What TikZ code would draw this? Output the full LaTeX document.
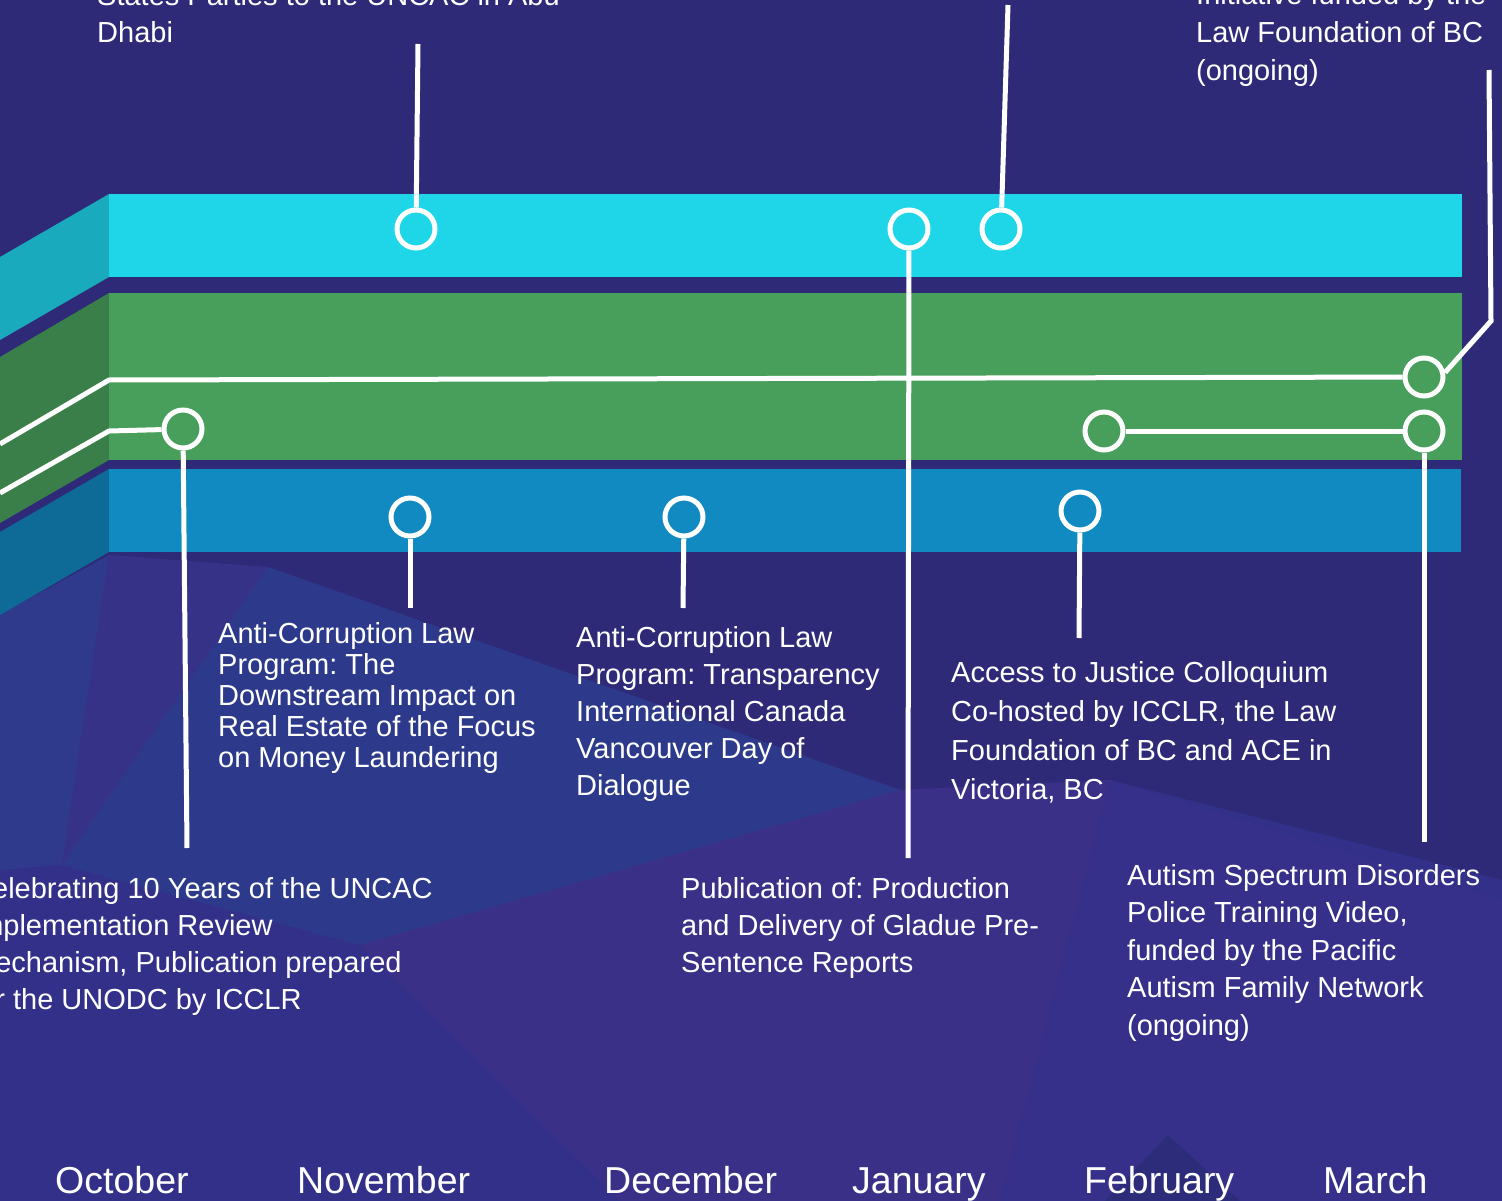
\documentclass[tikz,border=0pt]{standalone}
\usepackage{fontspec}
\setmainfont{Liberation Sans}
\frenchspacing
\definecolor{bgtop}{HTML}{2E2A78}
\definecolor{bglow}{HTML}{33308A}
\definecolor{facetblue}{HTML}{2D3A8B}
\definecolor{facetleft}{HTML}{2F3A8C}
\definecolor{facetviolet}{HTML}{363288}
\definecolor{facetpurple}{HTML}{3A3088}
\definecolor{facetright}{HTML}{36308A}
\definecolor{facetdark}{HTML}{2C2C7A}
\definecolor{cyanband}{HTML}{1FD6E9}
\definecolor{cyanside}{HTML}{19AABD}
\definecolor{greenband}{HTML}{479F5B}
\definecolor{greenside}{HTML}{3A7E4A}
\definecolor{blueband}{HTML}{118AC1}
\definecolor{blueside}{HTML}{0E6B98}
\newcommand\linesblock[2]{\vtop{\baselineskip=#1pt\lineskiplimit=-100pt\halign{##\hfil\cr #2\crcr}}}
\begin{document}
\begin{tikzpicture}[x=1pt,y=-1pt,
  evt/.style={circle,draw=white,line width=5pt,minimum size=38pt,inner sep=0pt},
  conn/.style={draw=white,line width=5pt},
  label/.style={anchor=base west,inner sep=0pt,text=white,font=\fontsize{29}{37}\selectfont},
  month/.style={anchor=base west,inner sep=0pt,text=white,font=\fontsize{37.5}{40}\selectfont}]
\useasboundingbox (0,0) rectangle (1502,1201);
\clip (0,0) rectangle (1502,1201);
% background (low-poly)
\fill[bgtop] (0,0) rectangle (1502,1201);
\fill[bglow] (0,600) -- (268,567) -- (900,790) -- (1110,780) -- (1502,880) -- (1502,1201) -- (0,1201) -- cycle;
\fill[facetleft] (0,615) -- (109,555) -- (62,865) -- (0,870) -- cycle;
\fill[facetviolet] (109,555) -- (268,567) -- (62,865) -- cycle;
\fill[facetblue] (268,567) -- (900,790) -- (360,945) -- (62,865) -- cycle;
\fill[facetpurple] (900,790) -- (1110,780) -- (1000,1201) -- (620,1201) -- (360,945) -- cycle;
\fill[facetright] (1110,780) -- (1502,900) -- (1502,1201) -- (1000,1201) -- cycle;
\fill[facetdark] (1105,1201) -- (1168,1135) -- (1240,1201) -- cycle;
% bands
\fill[cyanside] (0,257) -- (109,194) -- (109,277) -- (0,340) -- cycle;
\fill[cyanband] (109,194) rectangle (1462,277);
\fill[greenside] (0,357) -- (109,293) -- (109,460) -- (0,523) -- cycle;
\fill[greenband] (109,293) rectangle (1462,460);
\fill[blueside] (0,532) -- (109,469) -- (109,552) -- (0,615) -- cycle;
\fill[blueband] (109,469) rectangle (1461,552);
% event markers
\node[evt] (c1) at (416,229) {};
\node[evt] (c2) at (183,429) {};
\node[evt] (c3) at (909,229) {};
\node[evt] (c4) at (1001,229) {};
\node[evt] (c5) at (410,517) {};
\node[evt] (c6) at (684,517) {};
\node[evt] (c7) at (1080,511) {};
\node[evt] (c8) at (1104,431) {};
\node[evt] (c9) at (1424,377) {};
\node[evt] (c10) at (1424,431) {};
% free ends
\coordinate (t1) at (418,44);
\coordinate (t3) at (908,858);
\coordinate (t4) at (1008,5);
\coordinate (t5) at (410,608);
\coordinate (t6) at (683,608);
\coordinate (t7) at (1079,638);
\coordinate (t2) at (187,848);
\coordinate (k2) at (109,431);
\coordinate (e2) at (0,493);
\coordinate (k9) at (109,380);
\coordinate (e9) at (0,444);
\coordinate (b9) at (1491,321);
\coordinate (t9) at (1489,70);
\coordinate (t10) at (1424,842);
% connectors
\draw[conn] (c1) -- (t1);
\draw[conn] (c3) -- (t3);
\draw[conn] (c4) -- (t4);
\draw[conn] (c5) -- (t5);
\draw[conn] (c6) -- (t6);
\draw[conn] (c7) -- (t7);
\draw[conn] (c2) -- (t2);
\draw[conn] (c2) -- (k2) -- (e2);
\draw[conn] (c9) -- (k9) -- (e9);
\draw[conn] (c9.12) -- (b9) -- (t9);
\draw[conn] (c8) -- (c10);
\draw[conn] (c10) -- (t10);
% texts
\node[label] (x1) at (97,6) {\linesblock{37}{States Parties to the UNCAC in Abu\cr Dhabi}};
\node[label] (x2) at (1196,5) {\linesblock{38}{Initiative funded by the\cr Law Foundation of BC\cr (ongoing)}};
\node[label] (x3) at (218,643) {\linesblock{31}{Anti-Corruption Law\cr Program: The\cr Downstream Impact on\cr Real Estate of the Focus\cr on Money Laundering}};
\node[label] (x4) at (576,647) {\linesblock{37}{Anti-Corruption Law\cr Program: Transparency\cr International Canada\cr Vancouver Day of\cr Dialogue}};
\node[label] (x5) at (951,682) {\linesblock{39.3}{Access to Justice Colloquium\cr Co-hosted by ICCLR, the Law\cr Foundation of BC and ACE in\cr Victoria, BC}};
\node[label] (x6) at (-29,898) {\linesblock{37.3}{Celebrating 10 Years of the UNCAC\cr Implementation Review\cr Mechanism, Publication prepared\cr for the UNODC by ICCLR}};
\node[label] (x7) at (681,898) {\linesblock{37}{Publication of: Production\cr and Delivery of Gladue Pre-\cr Sentence Reports}};
\node[label] (x8) at (1127,885) {\linesblock{37.5}{Autism Spectrum Disorders\cr Police Training Video,\cr funded by the Pacific\cr Autism Family Network\cr (ongoing)}};
% months
\node[month] (m1) at (55,1193) {October};
\node[month] (m2) at (297,1193) {November};
\node[month] (m3) at (604,1193) {December};
\node[month] (m4) at (852,1193) {January};
\node[month] (m5) at (1084,1193) {February};
\node[month] (m6) at (1323,1193) {March};
\end{tikzpicture}
\end{document}
